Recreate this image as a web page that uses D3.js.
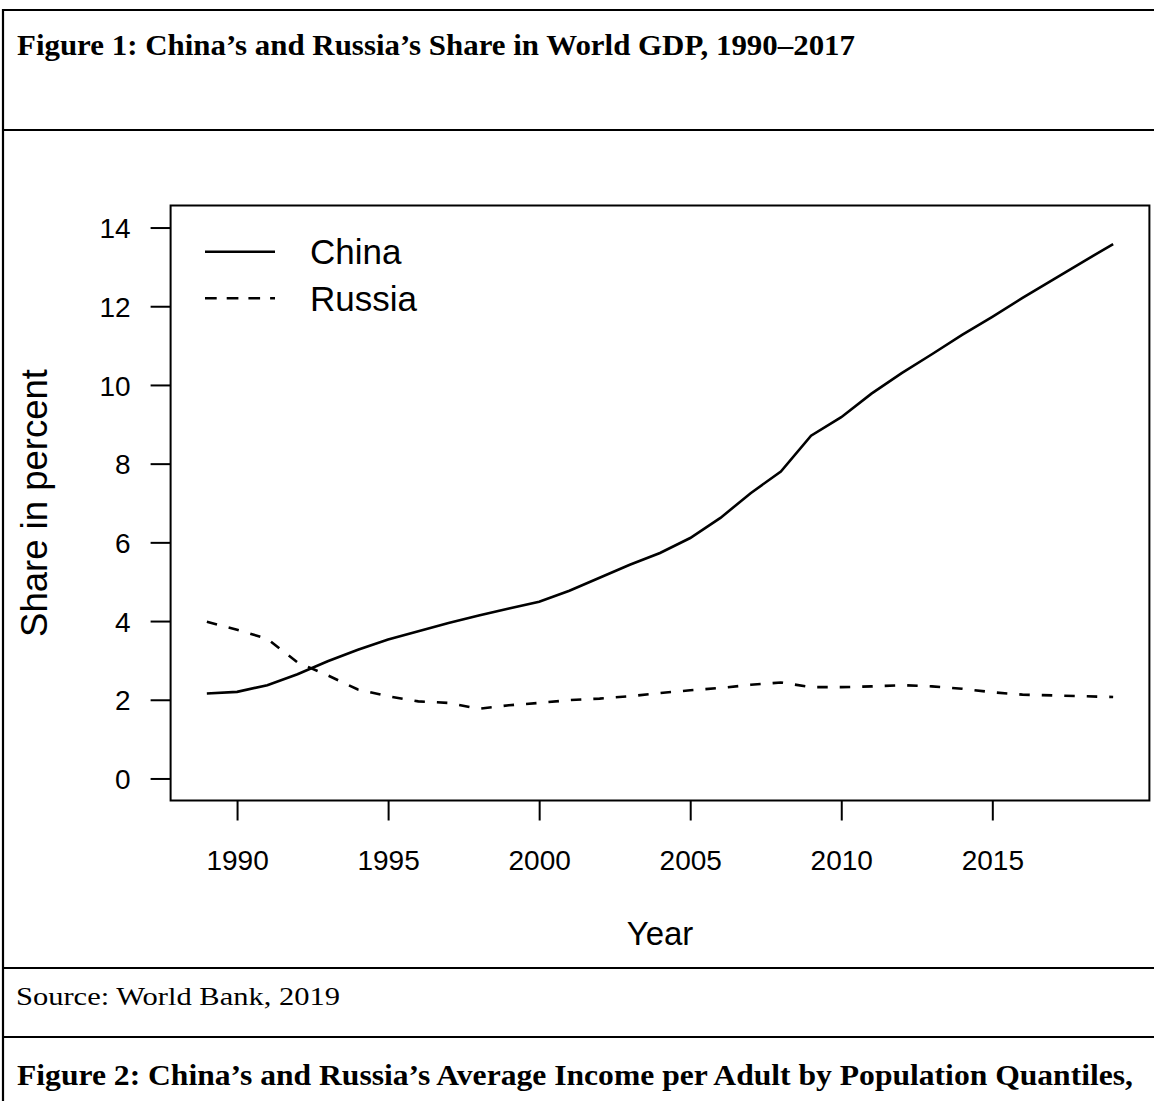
<!DOCTYPE html>
<html>
<head>
<meta charset="utf-8">
<script src="https://cdn.jsdelivr.net/npm/d3@7"></script>
<style>
  html, body { margin: 0; padding: 0; background: #fff; }
  svg { display: block; }
</style>
</head>
<body>
<script>
// ---- data ----
const years = [1989,1990,1991,1992,1993,1994,1995,1996,1997,1998,1999,2000,2001,2002,2003,2004,2005,2006,2007,2008,2009,2010,2011,2012,2013,2014,2015,2016,2017,2018,2019];
const china = [2.16,2.20,2.37,2.65,2.98,3.27,3.53,3.74,3.95,4.14,4.32,4.49,4.77,5.10,5.43,5.73,6.11,6.62,7.25,7.80,8.71,9.18,9.78,10.30,10.78,11.27,11.73,12.21,12.67,13.13,13.58];
const russia = [3.98,3.78,3.55,2.95,2.62,2.26,2.09,1.96,1.92,1.77,1.86,1.92,1.99,2.03,2.09,2.17,2.24,2.30,2.38,2.44,2.32,2.32,2.34,2.37,2.34,2.28,2.19,2.13,2.11,2.09,2.07];
const seriesNames = ["China", "Russia"];
const xTicks = [1990,1995,2000,2005,2010,2015];
const yTicks = [0,2,4,6,8,10,12,14];
const titleText = "Figure 1: China\u2019s and Russia\u2019s Share in World GDP, 1990\u20132017";
const sourceText = "Source: World Bank, 2019";
const nextTitleText = "Figure 2: China\u2019s and Russia\u2019s Average Income per Adult by Population Quantiles,";
const xLabel = "Year";
const yLabel = "Share in percent";

// ---- layout ----
const W = 1154, H = 1101;
const svg = d3.select("body").append("svg").attr("width", W).attr("height", H);

const box = {left: 170.6, right: 1149.4, top: 205.5, bottom: 800.5};
const x = d3.scaleLinear().domain([1987.8, 2020.2]).range([box.left, box.right]);
const y = d3.scaleLinear().domain([-0.56, 14.56]).range([box.bottom, box.top]);

// ---- document frame ----
const frame = svg.append("g").attr("stroke", "#000").attr("stroke-width", 2.2);
frame.append("line").attr("x1", 3).attr("x2", W).attr("y1", 10).attr("y2", 10);
frame.append("line").attr("x1", 3).attr("x2", 3).attr("y1", 9).attr("y2", H);
frame.append("line").attr("x1", 3).attr("x2", W).attr("y1", 130).attr("y2", 130);
frame.append("line").attr("x1", 3).attr("x2", W).attr("y1", 968).attr("y2", 968);
frame.append("line").attr("x1", 3).attr("x2", W).attr("y1", 1037).attr("y2", 1037);

const serif = "'Liberation Serif', 'DejaVu Serif', serif";
svg.append("text").attr("x", 17).attr("y", 55)
  .attr("font-family", serif).attr("font-weight", "bold").attr("font-size", 29)
  .attr("textLength", 838).attr("lengthAdjust", "spacingAndGlyphs")
  .text(titleText);
svg.append("text").attr("x", 16).attr("y", 1005)
  .attr("font-family", serif).attr("font-size", 26)
  .attr("textLength", 324).attr("lengthAdjust", "spacingAndGlyphs")
  .text(sourceText);
svg.append("text").attr("x", 17).attr("y", 1085)
  .attr("font-family", serif).attr("font-weight", "bold").attr("font-size", 29)
  .attr("textLength", 1116).attr("lengthAdjust", "spacingAndGlyphs")
  .text(nextTitleText);

// ---- plot ----
const sans = "'Liberation Sans', Arial, Helvetica, sans-serif";

svg.append("rect")
  .attr("x", box.left).attr("y", box.top)
  .attr("width", box.right - box.left).attr("height", box.bottom - box.top)
  .attr("fill", "none").attr("stroke", "#000").attr("stroke-width", 2);

const xAxis = svg.append("g").attr("transform", `translate(0,${box.bottom})`)
  .call(d3.axisBottom(x).tickValues(xTicks).tickFormat(d3.format("d")).tickSize(20).tickSizeOuter(0).tickPadding(0));
xAxis.select(".domain").remove();
xAxis.selectAll(".tick line").attr("stroke-width", 2);
xAxis.selectAll(".tick text").attr("font-family", sans).attr("font-size", 28)
  .attr("fill", "#000").attr("y", 69).attr("dy", 0);

const yAxis = svg.append("g").attr("transform", `translate(${box.left},0)`)
  .call(d3.axisLeft(y).tickValues(yTicks).tickFormat(d3.format("d")).tickSize(20).tickSizeOuter(0).tickPadding(20));
yAxis.select(".domain").remove();
yAxis.selectAll(".tick line").attr("stroke-width", 2);
yAxis.selectAll(".tick text").attr("font-family", sans).attr("font-size", 28)
  .attr("fill", "#000").attr("dy", "0.36em");

svg.append("text").attr("x", (box.left + box.right) / 2).attr("y", 945)
  .attr("text-anchor", "middle").attr("font-family", sans).attr("font-size", 33)
  .text(xLabel);
svg.append("text")
  .attr("transform", `translate(46.5,${(box.top + box.bottom) / 2}) rotate(-90)`)
  .attr("text-anchor", "middle").attr("font-family", sans).attr("font-size", 36.5)
  .text(yLabel);

const dashes = ["none", "10.5,12"];
const seriesData = [china, russia];
const line = d3.line().x((d, i) => x(years[i])).y(d => y(d));
seriesData.forEach((s, k) => {
  svg.append("path").datum(s)
    .attr("d", line)
    .attr("fill", "none").attr("stroke", "#000").attr("stroke-width", 2.6)
    .attr("stroke-dasharray", dashes[k]);
});

// ---- legend ----
const legendY = [251.7, 298.3];
const legend = svg.append("g");
seriesNames.forEach((name, k) => {
  legend.append("line").attr("x1", 205).attr("x2", 275)
    .attr("y1", legendY[k]).attr("y2", legendY[k])
    .attr("stroke", "#000").attr("stroke-width", 2.6)
    .attr("stroke-dasharray", k === 0 ? "none" : "11.7,10");
  legend.append("text").attr("x", 310).attr("y", legendY[k]).attr("dy", "0.36em")
    .attr("font-family", sans).attr("font-size", 35).text(name);
});
</script>
</body>
</html>
